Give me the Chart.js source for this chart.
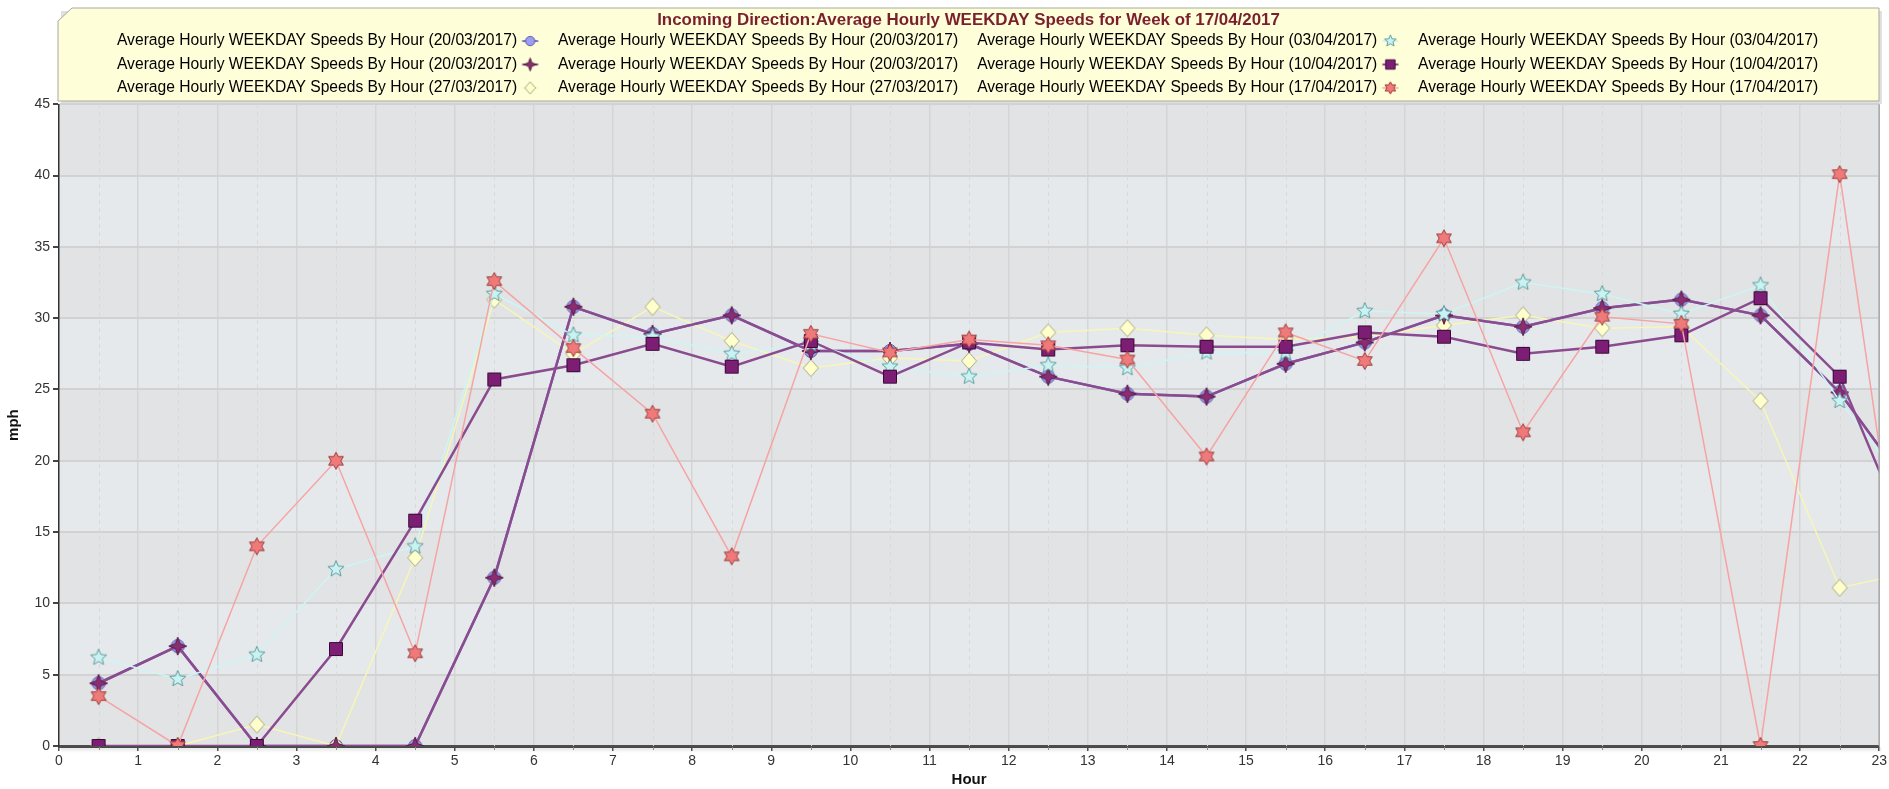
<!DOCTYPE html>
<html>
<head>
<meta charset="utf-8">
<script src="https://cdn.jsdelivr.net/npm/chart.js@4.4.1/dist/chart.umd.min.js"></script>
<style>
    html, body { margin: 0; padding: 0; background: #ffffff; }
</style>
</head>
<body>
<canvas id="myChart" width="1889" height="789"></canvas>
<script>
// hour buckets (centre of each hour), the last one falls past the axis end and gets clipped
const hours = [0.5, 1.5, 2.5, 3.5, 4.5, 5.5, 6.5, 7.5, 8.5, 9.5, 10.5, 11.5,
    12.5, 13.5, 14.5, 15.5, 16.5, 17.5, 18.5, 19.5, 20.5, 21.5, 22.5, 23.5];

const speeds2003 = [4.4, 7.0, 0, 0, 0, 11.8, 30.8, 28.9, 30.2, 27.7, 27.7, 28.2,
    25.9, 24.7, 24.5, 26.8, 28.3, 30.2, 29.4, 30.7, 31.3, 30.2, 24.8, 17.2];
const speeds2703 = [0, 0, 1.5, 0, 13.2, 31.3, 27.5, 30.8, 28.4, 26.5, 27.2, 27.0,
    29.0, 29.3, 28.8, 28.5, 28.7, 29.5, 30.2, 29.3, 29.4, 24.2, 11.1, 12.3];
const speeds0304 = [6.2, 4.7, 6.4, 12.4, 14.0, 31.7, 28.8, 28.7, 27.5, 28.2, 26.6, 25.9,
    26.7, 26.5, 27.6, 27.6, 30.5, 30.3, 32.5, 31.7, 30.3, 32.3, 24.2, 17.0];
const speeds1004 = [0, 0, 0, 6.8, 15.8, 25.7, 26.7, 28.2, 26.6, 28.4, 25.9, 28.3,
    27.8, 28.1, 28.0, 28.0, 29.0, 28.7, 27.5, 28.0, 28.8, 31.4, 25.9, 12.7];
const speeds1704 = [3.5, 0, 14.0, 20.0, 6.5, 32.6, 27.9, 23.3, 13.3, 28.9, 27.6, 28.5,
    28.1, 27.1, 20.3, 29.0, 27.0, 35.6, 22.0, 30.1, 29.6, 0, 40.1, 2.0];

const seriesName = 'Average Hourly WEEKDAY Speeds By Hour';
const titleText = 'Incoming Direction:Average Hourly WEEKDAY Speeds for Week of 17/04/2017';
// legend reads row by row, every visible series is preceded by an entry with no symbol
const legendDates = ['20/03/2017', '20/03/2017', '03/04/2017', '03/04/2017',
    '20/03/2017', '20/03/2017', '10/04/2017', '10/04/2017',
    '27/03/2017', '27/03/2017', '17/04/2017', '17/04/2017'];
const legendSymbols = [null, 'circle', null, 'star5', null, 'star4', null, 'square',
    null, 'diamond', null, 'star6'];

const FONT = "'Liberation Sans', Arial, sans-serif";

function starPath(ctx, cx, cy, n, rOut, rIn) {
    ctx.beginPath();
    for (let i = 0; i < 2 * n; i++) {
        const r = i % 2 ? rIn : rOut;
        const a = i * Math.PI / n;
        ctx.lineTo(cx + r * Math.sin(a), cy - r * Math.cos(a));
    }
    ctx.closePath();
}

const shapes = {
    circle: (ctx, x, y, s) => { ctx.beginPath(); ctx.arc(x, y, 6.5 * s, 0, Math.PI * 2); },
    star4: (ctx, x, y, s) => starPath(ctx, x, y, 4, 9 * s, 3.4 * s),
    square: (ctx, x, y, s) => { ctx.beginPath(); ctx.rect(x - 6.5 * s, y - 6.5 * s, 13 * s, 13 * s); },
    diamond: (ctx, x, y, s) => {
        ctx.beginPath();
        ctx.moveTo(x, y - 8.5 * s); ctx.lineTo(x + 7.5 * s, y);
        ctx.lineTo(x, y + 8.5 * s); ctx.lineTo(x - 7.5 * s, y);
        ctx.closePath();
    },
    star5: (ctx, x, y, s) => starPath(ctx, x, y, 5, 8.5 * s, 3.8 * s),
    star6: (ctx, x, y, s) => starPath(ctx, x, y, 6, 8.5 * s, 4.8 * s)
};

const looks = {
    circle: { fill: '#9d9cf0', stroke: '#5b5aa6', line: '#7b72c4', width: 2.5 },
    star5: { fill: '#c9f3f3', stroke: '#5f9c9c', line: '#cdf5f5', width: 1.5 },
    star4: { fill: '#8c2d70', stroke: '#561a48', line: '#8a4c8f', width: 2.5 },
    square: { fill: '#7c1f74', stroke: '#3a0838', line: '#8a4c8f', width: 2.5 },
    diamond: { fill: '#ffffcc', stroke: '#a9a985', line: '#f7f6b6', width: 1.5 },
    star6: { fill: '#f07a7a', stroke: '#9c3c3c', line: '#f6a3a3', width: 1.5 }
};

function makeCanvas(w, h, paint) {
    const c = document.createElement('canvas');
    c.width = w;
    c.height = h;
    if (paint) paint(c.getContext('2d'));
    return c;
}

function pointIcon(name) {
    const look = looks[name];
    return makeCanvas(24, 24, ctx => {
        shapes[name](ctx, 12, 12, 1);
        ctx.fillStyle = look.fill;
        ctx.fill();
        ctx.lineWidth = 1;
        ctx.strokeStyle = look.stroke;
        ctx.stroke();
    });
}

// legend symbol: short line with the marker, sitting right of the (very narrow) box
function legendIcon(name) {
    return makeCanvas(52, 20, ctx => {
        if (!name) return;
        const look = looks[name];
        const cx = 29.5, cy = 10;
        ctx.strokeStyle = look.line;
        ctx.lineWidth = Math.min(look.width, 2);
        ctx.beginPath();
        ctx.moveTo(cx - 8, cy); ctx.lineTo(cx + 8, cy);
        ctx.stroke();
        shapes[name](ctx, cx, cy, 0.72);
        ctx.fillStyle = look.fill;
        ctx.fill();
        ctx.lineWidth = 1;
        ctx.strokeStyle = look.stroke;
        ctx.stroke();
    });
}

function series(name, date, values, order) {
    const look = looks[name];
    return {
        label: seriesName + ' (' + date + ')',
        data: hours.map((h, i) => ({ x: h, y: values[i] })),
        borderColor: look.line,
        backgroundColor: look.fill,
        borderWidth: look.width,
        pointStyle: pointIcon(name),
        pointRadius: 6,
        pointHoverRadius: 6,
        tension: 0,
        order: order
    };
}

const data = {
    datasets: [
        series('star6', '17/04/2017', speeds1704, 1),
        series('square', '10/04/2017', speeds1004, 2),
        series('star5', '03/04/2017', speeds0304, 3),
        series('star4', '20/03/2017', speeds2003, 4),
        series('diamond', '27/03/2017', speeds2703, 5),
        series('circle', '20/03/2017', speeds2003, 6)
    ]
};

// background bands, legend panel, half hour grid and a few borders
const decor = {
    id: 'decor',
    afterLayout(chart) {
        chart.titleBlock.left += 24; chart.titleBlock.right += 24;
        chart.titleBlock.top += 5; chart.titleBlock.bottom += 5;
        chart.legend.left += 17.5; chart.legend.right += 17.5;
        chart.legend.top += 1.5; chart.legend.bottom += 1.5;
    },
    beforeDraw(chart) {
        const { ctx, chartArea: a, scales: { y } } = chart;
        ctx.save();
        // legend panel with its cut corner
        const L = 58, T = 8, R = 1879, B = 101;
        ctx.fillStyle = 'rgba(0,0,0,0.12)';
        ctx.fillRect(L + 3, T + 3, R - L, B - T);
        ctx.beginPath();
        ctx.moveTo(L, T + 13); ctx.lineTo(L + 14, T); ctx.lineTo(R, T);
        ctx.lineTo(R, B); ctx.lineTo(L, B); ctx.closePath();
        ctx.fillStyle = '#fefed8';
        ctx.fill();
        ctx.lineWidth = 1;
        ctx.strokeStyle = '#a8a8a0';
        ctx.stroke();
        // plot bands
        const ticks = y.ticks;
        for (let i = 0; i < ticks.length - 1; i++) {
            const top = y.getPixelForValue(ticks[i + 1].value);
            const bot = y.getPixelForValue(ticks[i].value);
            ctx.fillStyle = i % 2 === 0 ? '#e2e3e5' : '#e6e9ec';
            ctx.fillRect(a.left, top, a.right - a.left, bot - top);
        }
        ctx.restore();
    },
    beforeDatasetsDraw(chart) {
        const { ctx, chartArea: a, scales: { x } } = chart;
        ctx.save();
        ctx.strokeStyle = '#d9d9d9';
        ctx.lineWidth = 1;
        ctx.setLineDash([4, 4]);
        for (let h = x.min + 0.5; h < x.max; h += 1) {
            const px = Math.round(x.getPixelForValue(h)) + 0.5;
            ctx.beginPath();
            ctx.moveTo(px, a.top); ctx.lineTo(px, a.bottom);
            ctx.stroke();
        }
        ctx.restore();
    },
    afterDraw(chart) {
        const { ctx, chartArea: a, scales: { x } } = chart;
        ctx.save();
        const g = ctx.createLinearGradient(0, a.bottom + 1.5, 0, a.bottom + 7);
        g.addColorStop(0, 'rgba(0,0,0,0.10)');
        g.addColorStop(1, 'rgba(0,0,0,0)');
        ctx.fillStyle = g;
        ctx.fillRect(a.left + 2, a.bottom + 1.5, a.right - a.left, 5.5);
        ctx.strokeStyle = '#888';
        ctx.lineWidth = 1;
        for (let h = x.min + 0.5; h < x.max; h += 1) {
            const px = Math.round(x.getPixelForValue(h)) + 0.5;
            ctx.beginPath();
            ctx.moveTo(px, a.bottom + 1); ctx.lineTo(px, a.bottom + 4);
            ctx.stroke();
        }
        ctx.strokeStyle = '#a9a9a9';
        ctx.lineWidth = 1.5;
        ctx.beginPath();
        ctx.moveTo(a.right, a.top); ctx.lineTo(a.right, a.bottom);
        ctx.stroke();
        ctx.restore();
    }
};

const config = {
    type: 'line',
    data: data,
    plugins: [decor],
    options: {
        responsive: false,
        animation: false,
        layout: { padding: 0 },
        plugins: {
            title: {
                display: true,
                text: titleText,
                color: '#7a1f2e',
                font: { family: FONT, size: 16.9, weight: 'bold', lineHeight: 1 },
                padding: { top: 7, bottom: 0 }
            },
            legend: {
                position: 'top',
                onClick: null,
                labels: {
                    usePointStyle: true,
                    pointStyleWidth: 3.4,
                    padding: 7.8,
                    color: '#222',
                    font: { family: FONT, size: 15.65 },
                    // entries with a symbol get extra room in front of their text
                    generateLabels: () => legendDates.map((d, i) => ({
                        text: (legendSymbols[i] ? '     ' : '') + seriesName + ' (' + d + ')',
                        pointStyle: legendIcon(legendSymbols[i]),
                        fillStyle: 'rgba(0,0,0,0)',
                        strokeStyle: 'rgba(0,0,0,0)',
                        lineWidth: 0,
                        hidden: false
                    }))
                }
            },
            tooltip: { enabled: false }
        },
        scales: {
            x: {
                type: 'linear',
                min: 0,
                max: 23,
                afterFit: s => { s.height = 43; },
                ticks: { stepSize: 1, autoSkip: false, maxRotation: 0, padding: 2,
                    color: '#333', font: { family: FONT, size: 14 } },
                grid: { color: '#d5d5d5', lineWidth: 1.5, tickLength: 5, tickColor: '#555' },
                border: { color: '#4d4d4d', width: 3 },
                title: { display: true, text: 'Hour', color: '#111', padding: 0,
                    font: { family: FONT, size: 15, weight: 'bold' } }
            },
            y: {
                min: 0,
                max: 45,
                afterFit: s => { s.width = 59; },
                ticks: { stepSize: 5, padding: 3, color: '#333', font: { family: FONT, size: 14 } },
                grid: { color: '#d2d2d2', lineWidth: 2, tickLength: 6, tickColor: '#444' },
                border: { color: '#333', width: 1.5 },
                title: { display: true, text: 'mph', color: '#111', padding: { top: 5 },
                    font: { family: FONT, size: 15, weight: 'bold' } }
            }
        }
    }
};

var myChart = new Chart(
    document.getElementById('myChart'),
    config
);
</script>
</body>
</html>
